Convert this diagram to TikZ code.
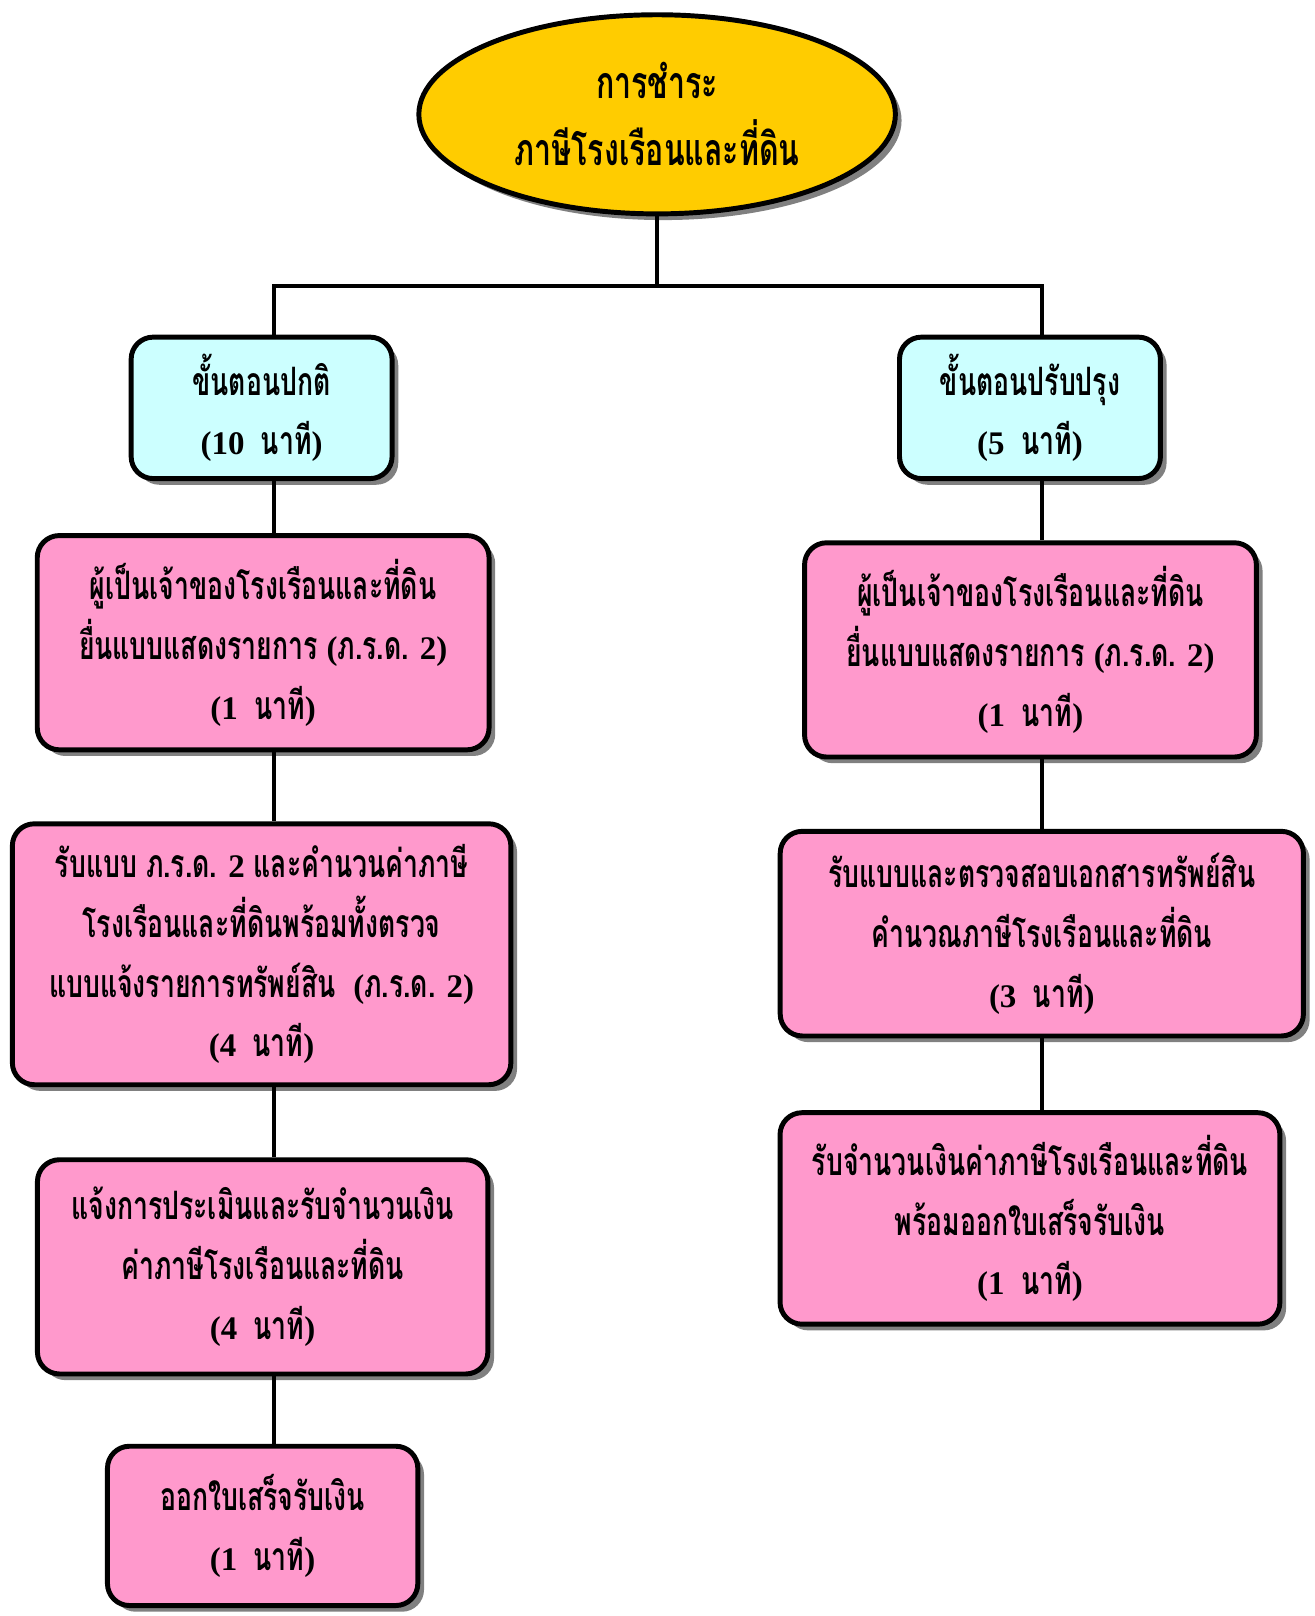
\documentclass[tikz,border=0pt]{standalone}
\usepackage{fontspec}
\newfontfamily\thaifont[Script=Thai,FakeStretch=0.68]{Loma}
\newfontfamily\latfont{Liberation Serif}
\newcommand\latn[1]{{\latfont\bfseries\fontsize{24}{43.5}\selectfont #1}}
\usetikzlibrary{shapes.geometric,shadows}
\definecolor{pinkbox}{HTML}{FF99CC}
\definecolor{cyanbox}{HTML}{CCFFFF}
\definecolor{goldfill}{HTML}{FFCC00}
\begin{document}
\begin{tikzpicture}[x=0.75pt,y=-0.75pt,
  base/.style={draw=black, line width=3.6pt, align=center, inner sep=0pt,
    font=\thaifont\bfseries\fontsize{28.5}{43.5}\selectfont,
    drop shadow={shadow xshift=4.5pt, shadow yshift=-4.5pt, fill=black!50, opacity=1}},
  pinkb/.style={base, rectangle, rounded corners=16pt, fill=pinkbox},
  cyanb/.style={base, rectangle, rounded corners=16pt, fill=cyanbox},
  ovalb/.style={base, ellipse, fill=goldfill, font=\thaifont\bfseries\fontsize{32.5}{48.75}\selectfont},
  conn/.style={draw=black, line width=3pt}]
\useasboundingbox (0,0) rectangle (1276.7,1569);
\fill[white] (0,0) rectangle (1276.7,1569);

\node[ovalb, minimum width=347pt, minimum height=145pt] (top) at (638,111) {การชำระ\\ภาษีโรงเรือนและที่ดิน};

\node[cyanb, minimum width=190pt, minimum height=103pt] (c1) at (254,396) {ขั้นตอนปกติ\\\latn{(10\ \ }นาที\latn{)}};
\node[cyanb, minimum width=190pt, minimum height=103pt] (c2) at (1000,396) {ขั้นตอนปรับปรุง\\\latn{(5\ \ }นาที\latn{)}};

\node[pinkb, minimum width=329pt, minimum height=156pt] (l1) at (255.5,624) {ผู้เป็นเจ้าของโรงเรือนและที่ดิน\\ยื่นแบบแสดงรายการ \latn{(}ภ.ร.ด.\latn{ 2)}\\\latn{(1\ \ }นาที\latn{)}};
\node[pinkb, minimum width=363pt, minimum height=190pt] (l2) at (254,926.5) {รับแบบ ภ.ร.ด.\latn{ 2} และคำนวนค่าภาษี\\โรงเรือนและที่ดินพร้อมทั้งตรวจ\\แบบแจ้งรายการทรัพย์สิน\ \ \latn{(}ภ.ร.ด.\latn{ 2)}\\\latn{(4\ \ }นาที\latn{)}};
\node[pinkb, minimum width=328pt, minimum height=156pt] (l3) at (255,1230) {แจ้งการประเมินและรับจำนวนเงิน\\ค่าภาษีโรงเรือนและที่ดิน\\\latn{(4\ \ }นาที\latn{)}};
\node[pinkb, minimum width=226pt, minimum height=116pt] (l4) at (255,1481.5) {ออกใบเสร็จรับเงิน\\\latn{(1\ \ }นาที\latn{)}};

\node[pinkb, minimum width=329pt, minimum height=156pt] (r1) at (1000.5,631) {ผู้เป็นเจ้าของโรงเรือนและที่ดิน\\ยื่นแบบแสดงรายการ \latn{(}ภ.ร.ด.\latn{ 2)}\\\latn{(1\ \ }นาที\latn{)}};
\node[pinkb, minimum width=381pt, minimum height=149pt] (r2) at (1011.5,906.5) {รับแบบและตรวจสอบเอกสารทรัพย์สิน\\คำนวณภาษีโรงเรือนและที่ดิน\\\latn{(3\ \ }นาที\latn{)}};
\node[pinkb, minimum width=364pt, minimum height=154pt] (r3) at (1000,1183) {รับจำนวนเงินค่าภาษีโรงเรือนและที่ดิน\\พร้อมออกใบเสร็จรับเงิน\\\latn{(1\ \ }นาที\latn{)}};

\coordinate (hub) at (638,278);
\coordinate (tl) at (266,0);
\coordinate (tr) at (1012,0);

\draw[conn] (top.south) -- (hub);
\draw[conn] (c1.north -| tl) -- (tl |- hub) -- (tr |- hub) -- (c2.north -| tr);
\draw[conn] (c1.south -| tl) -- (l1.north -| tl);
\draw[conn] (l1.south -| tl) -- (l2.north -| tl);
\draw[conn] (l2.south -| tl) -- (l3.north -| tl);
\draw[conn] (l3.south -| tl) -- (l4.north -| tl);
\draw[conn] (c2.south -| tr) -- (r1.north -| tr);
\draw[conn] (r1.south -| tr) -- (r2.north -| tr);
\draw[conn] (r2.south -| tr) -- (r3.north -| tr);
\end{tikzpicture}
\end{document}
